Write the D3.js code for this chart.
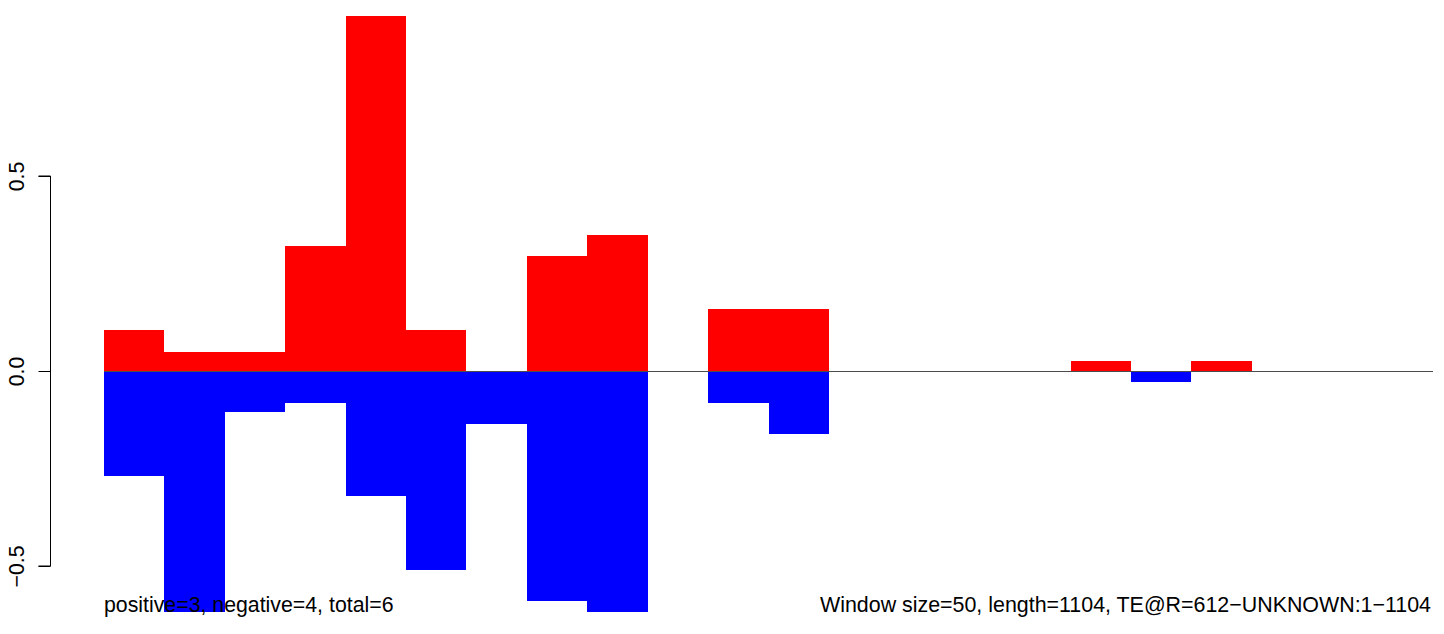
<!DOCTYPE html>
<html>
<head>
<meta charset="utf-8">
<script src="https://cdn.jsdelivr.net/npm/d3@7/dist/d3.min.js"></script>
<style>
  html, body { margin: 0; padding: 0; background: #fff; }
  svg { display: block; }
  text { font-family: "Liberation Sans", Arial, Helvetica, sans-serif; fill: #000; }
</style>
</head>
<body>
<div id="chart"></div>
<script>
// ---- data ----
const windows = d3.range(22); // window index (size 50 bp)
const positiveValues = [0.105, 0.050, 0.050, 0.320, 0.910, 0.105, 0, 0.294, 0.348, 0, 0.159, 0.159, 0, 0, 0, 0, 0.026, 0, 0.026, 0, 0, 0];
const negativeValues = [-0.268, -0.65, -0.105, -0.083, -0.321, -0.511, -0.136, -0.591, -0.65, 0, -0.081, -0.161, 0, 0, 0, 0, 0, -0.027, 0, 0, 0, 0];
const yTicks = [-0.5, 0.0, 0.5];
const yTickLabels = ["\u22120.5", "0.0", "0.5"];
const leftLabel = "positive=3, negative=4, total=6";
const rightLabel = "Window size=50, length=1104, TE@R=612\u2212UNKNOWN:1\u22121104";

// ---- layout ----
const W = 1444, H = 634;
const svg = d3.select("#chart").append("svg").attr("width", W).attr("height", H);

const x = d3.scaleLinear().domain([0, 22]).range([104, 1433]);
const y = d3.scaleLinear().domain([-0.5, 0.5]).range([566, 176]);

svg.append("defs").append("clipPath").attr("id", "plotclip")
  .append("rect").attr("x", 0).attr("y", 0).attr("width", W).attr("height", 612);

const g = svg.append("g").attr("clip-path", "url(#plotclip)").attr("shape-rendering", "crispEdges");

g.selectAll("rect.pos").data(windows.filter(i => positiveValues[i] !== 0)).join("rect")
  .attr("class", "pos")
  .attr("x", i => x(i)).attr("width", i => x(i + 1) - x(i))
  .attr("y", i => y(positiveValues[i])).attr("height", i => y(0) - y(positiveValues[i]))
  .attr("fill", "#ff0000");

g.selectAll("rect.neg").data(windows.filter(i => negativeValues[i] !== 0)).join("rect")
  .attr("class", "neg")
  .attr("x", i => x(i)).attr("width", i => x(i + 1) - x(i))
  .attr("y", y(0)).attr("height", i => y(negativeValues[i]) - y(0))
  .attr("fill", "#0000ff");

// zero line
svg.append("line")
  .attr("x1", x(0)).attr("x2", x(22))
  .attr("y1", Math.round(y(0)) + 0.5).attr("y2", Math.round(y(0)) + 0.5)
  .attr("stroke", "#4d4d4d").attr("stroke-width", 1);

// y axis
const axis = d3.axisLeft(y).tickValues(yTicks).tickSize(12).tickFormat((d, i) => yTickLabels[i]);
const ag = svg.append("g").attr("transform", "translate(50.5,0)").call(axis);
ag.select(".domain").attr("stroke", "#000").attr("d", `M-12,${y(0.5)}H0V${y(-0.5)}H-12`).attr("fill", "none");
ag.selectAll(".tick line").attr("stroke", "#000");
ag.selectAll(".tick text")
  .attr("font-size", 21.3).attr("font-family", "'Liberation Sans', Arial, sans-serif")
  .attr("x", null).attr("dy", null)
  .attr("text-anchor", "middle")
  .attr("transform", "translate(-27,0) rotate(-90)");

// bottom labels
svg.append("text").attr("x", 104).attr("y", 612).attr("font-size", 21.3).text(leftLabel);
svg.append("text").attr("x", 1431).attr("y", 612).attr("font-size", 21.3).attr("text-anchor", "end")
  .attr("textLength", 611).attr("lengthAdjust", "spacingAndGlyphs").text(rightLabel);
</script>
</body>
</html>
